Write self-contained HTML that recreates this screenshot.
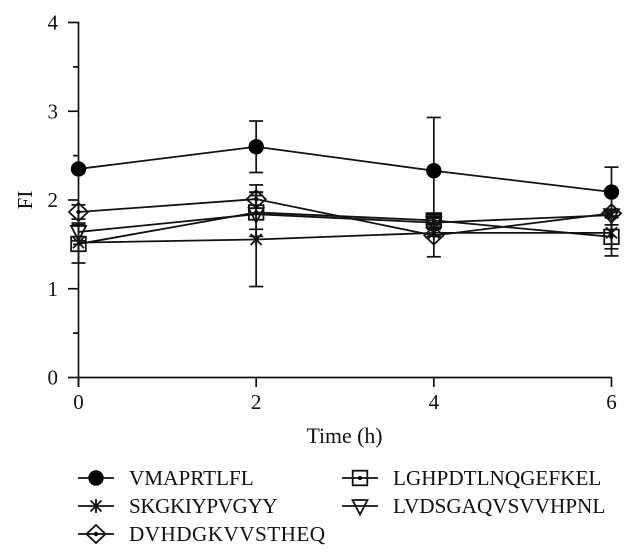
<!DOCTYPE html>
<html>
<head>
<meta charset="utf-8">
<title>FI over time</title>
<style>
html,body{margin:0;padding:0;background:#fff;}
svg{display:block;}
text{font-family:"Liberation Serif",serif;font-size:21px;fill:#111;}
</style>
</head>
<body>
<svg id="chart" width="634" height="557" viewBox="0 0 634 557" xmlns="http://www.w3.org/2000/svg"></svg>
<script>
const times = [0, 2, 4, 6];
const yTicks = [0, 1, 2, 3, 4];
const yMinorTicks = [0.5, 1.5, 2.5, 3.5];
const seriesNames = ["VMAPRTLFL", "SKGKIYPVGYY", "DVHDGKVVSTHEQ", "LGHPDTLNQGEFKEL", "LVDSGAQVSVVHPNL"];
const seriesMarkers = ["circle", "star", "diamond", "square", "triangle"];
const vmaprtlflValues = [2.35, 2.60, 2.33, 2.09];
const vmaprtlflErrors = [0, 0.29, 0.60, 0.28];
const skgkiypvgyyValues = [1.52, 1.555, 1.63, 1.63];
const skgkiypvgyyErrors = [0, 0.53, 0.04, 0.26];
const dvhdgkvvstheqValues = [1.865, 2.01, 1.60, 1.85];
const dvhdgkvvstheqErrors = [0.08, 0.16, 0.24, 0.03];
const lghpdtlnqgefkelValues = [1.505, 1.86, 1.77, 1.585];
const lghpdtlnqgefkelErrors = [0.215, 0.19, 0.05, 0.135];
const lvdsgaqvsvvhpnlValues = [1.64, 1.84, 1.745, 1.83];
const lvdsgaqvsvvhpnlErrors = [0.10, 0.25, 0.05, 0.03];

const allValues = [vmaprtlflValues, skgkiypvgyyValues, dvhdgkvvstheqValues, lghpdtlnqgefkelValues, lvdsgaqvsvvhpnlValues];
const allErrors = [vmaprtlflErrors, skgkiypvgyyErrors, dvhdgkvvstheqErrors, lghpdtlnqgefkelErrors, lvdsgaqvsvvhpnlErrors];

const svg = document.getElementById('chart');
const NS = 'http://www.w3.org/2000/svg';
const INK = '#111';
const xScale = function (t) { return 78 + t * (611 - 78) / 6; };
const yScale = function (v) { return 377.5 - v * 88.75; };

function make(tag, parent, props) {
  const el = document.createElementNS(NS, tag);
  for (const k in props) { el.setAttribute(k, props[k]); }
  parent.appendChild(el);
  return el;
}
function seg(parent, x1, y1, x2, y2, w) {
  return make('line', parent, {x1: x1, y1: y1, x2: x2, y2: y2, stroke: INK, 'stroke-width': w || 1.7});
}
function label(parent, x, y, str, anchor) {
  const t = make('text', parent, {x: x, y: y, 'text-anchor': anchor || 'start'});
  t.textContent = str;
  return t;
}
function marker(parent, kind, cx, cy) {
  const style = {fill: 'none', stroke: INK, 'stroke-width': 1.8};
  if (kind === 'circle') {
    make('circle', parent, {cx: cx, cy: cy, r: 7.7, fill: '#000'});
  } else if (kind === 'star') {
    seg(parent, cx - 5.5, cy - 5.5, cx + 5.5, cy + 5.5, 1.8);
    seg(parent, cx - 5.5, cy + 5.5, cx + 5.5, cy - 5.5, 1.8);
    seg(parent, cx, cy - 7, cx, cy + 7, 1.8);
  } else if (kind === 'diamond') {
    const p = [[cx, cy - 9], [cx + 9.5, cy], [cx, cy + 9], [cx - 9.5, cy]];
    make('polygon', parent, Object.assign({points: p.join(' ')}, style));
    make('circle', parent, {cx: cx, cy: cy, r: 2.2, fill: '#000'});
  } else if (kind === 'square') {
    make('rect', parent, Object.assign({x: cx - 7.3, y: cy - 7.3, width: 14.6, height: 14.6}, style));
    make('circle', parent, {cx: cx, cy: cy, r: 2, fill: '#000'});
  } else {
    const p = [[cx - 7.5, cy - 6], [cx + 7.5, cy - 6], [cx, cy + 8.5]];
    make('polygon', parent, Object.assign({points: p.join(' ')}, style));
  }
}

const yAxis = make('g', svg, {});


seg(yAxis, xScale(0) + 0.5, yScale(4) - 0.85, xScale(0) + 0.5, 387);
yTicks.forEach(function (v) {
  seg(yAxis, 68, yScale(v), xScale(0), yScale(v));
  const t = label(yAxis, 58, yScale(v) + 7, String(v), 'end');
  
  
});
yMinorTicks.forEach(function (v) {
  seg(yAxis, 73, yScale(v), xScale(0), yScale(v));
});

const xAxis = make('g', svg, {});


seg(xAxis, xScale(0), yScale(0), xScale(6) + 0.85, yScale(0));
times.forEach(function (t) {
  seg(xAxis, xScale(t) + 0.5, yScale(0), xScale(t) + 0.5, 387);
  const l = label(xAxis, xScale(t) + 0.5, 409, String(t), 'middle');
  
  
});

const yTitle = label(svg, 0, 0, 'FI', 'middle');
yTitle.setAttribute('transform', 'translate(32 200) rotate(-90)');



const xTitle = label(svg, 344.5, 443, 'Time (h)', 'middle');
xTitle.setAttribute('style', 'font-size:21.8px');



allValues.forEach(function (vals, s) {
  const g = make('g', svg, {});
  
  
  const errs = allErrors[s];
  const pts = vals.map(function (v, i) { return (xScale(times[i]) + 0.5) + ',' + yScale(v); }).join(' ');
  const line = make('polyline', g, {points: pts, fill: 'none', stroke: INK, 'stroke-width': 1.8});
  
  
  vals.forEach(function (v, i) {
    const x = xScale(times[i]) + 0.5;
    if (errs[i] > 0) {
      const top = yScale(v + errs[i]);
      const bot = yScale(v - errs[i]);
      seg(g, x, top, x, bot);
      seg(g, x - 7, top, x + 7, top);
      seg(g, x - 7, bot, x + 7, bot);
    }
    marker(g, seriesMarkers[s], x, yScale(v));
  });
});

const legendX = [78, 342];
const legendRows = [478, 506, 534];
const legendSpacing = [0, -0.45, 0.45, 0, 0];
const legend = make('g', svg, {});


seriesNames.forEach(function (name, s) {
  const col = s < 3 ? 0 : 1;
  const row = s < 3 ? s : s - 3;
  const x = legendX[col];
  const y = legendRows[row];
  const g = make('g', legend, {});
  
  
  seg(g, x, y, x + 36, y);
  marker(g, seriesMarkers[s], x + 18, y);
  const t = label(g, x + 51, y + 7, name);
  t.setAttribute('style', 'font-size:21.2px;letter-spacing:' + legendSpacing[s] + 'px');
});
</script>
</body>
</html>
